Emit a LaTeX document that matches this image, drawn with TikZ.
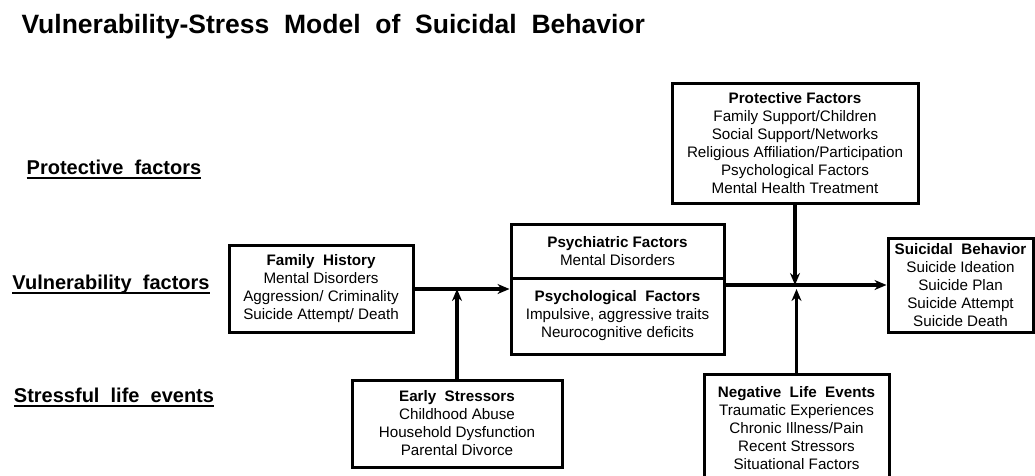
\documentclass[tikz,border=0pt]{standalone}
\usepackage{fontspec}
\setmainfont{Liberation Sans}
\usepackage{tikz}
\usetikzlibrary{arrows,arrows.meta,positioning,calc}

\tikzset{
  factor/.style={draw,line width=3pt,rectangle,inner sep=0pt,align=center,
    font=\fontsize{15.2}{18}\selectfont},
  rowlab/.style={anchor=base,inner xsep=0pt,font=\fontsize{20}{24}\selectfont\bfseries,
    append after command={($(\tikzlastnode.base west)+(0,4)$) edge[-,line width=2pt] ($(\tikzlastnode.base east)+(0,4)$)}},
  link/.style={->,line width=3.2pt}
}

\begin{document}
\begin{tikzpicture}[>={Stealth[length=12pt,width=10pt]},x=1pt,y=-1pt]
\useasboundingbox[fill=white] (0,0) rectangle (1035,475);

% title
\node[anchor=west,font=\fontsize{26.5}{32}\selectfont\bfseries] (title) at (18,27)
  {Vulnerability-Stress\ \ Model\ \ of\ \ Suicidal\ \ Behavior};

% row labels
\node[rowlab] (lprot) at (114,174) {Protective\ \ factors};
\node[rowlab] (lvuln) at (111,289) {Vulnerability\ \ factors};
\node[rowlab] (lstress) at (114,402) {Stressful\ \ life\ \ events};

% boxes
\node[factor,minimum width=184,minimum height=87] (fam) at (321,289)
  {\textbf{Family\ \ History}\\Mental Disorders\\Aggression/ Criminality\\Suicide Attempt/\ Death};
\node[factor,minimum width=213,minimum height=54] (psy) at (617.5,251)
  {\textbf{Psychiatric Factors}\\Mental Disorders};
\node[factor,minimum width=213,minimum height=76] (psl) at (617.5,316)
  {\textbf{Psychological\ \ Factors}\\Impulsive, aggressive traits\\Neurocognitive deficits};
\node[factor,minimum width=246,minimum height=120] (prot) at (795,143)
  {\textbf{Protective Factors}\\Family Support/Children\\Social Support/Networks\\Religious Affiliation/Participation\\Psychological Factors\\Mental Health Treatment};
\node[factor,minimum width=145,minimum height=94] (beh) at (960.5,285)
  {\textbf{Suicidal\ \ Behavior}\\Suicide Ideation\\Suicide Plan\\Suicide Attempt\\Suicide Death};
\node[factor,minimum width=210,minimum height=87] (early) at (457,423.5)
  {\textbf{Early\ \ Stressors}\\Childhood Abuse\\Household Dysfunction\\Parental Divorce};
\node[factor,minimum width=185,minimum height=108] (neg) at (796.5,428)
  {\textbf{Negative\ \ Life\ \ Events}\\Traumatic Experiences\\Chronic Illness/Pain\\Recent Stressors\\Situational Factors};

% connectors
\draw[link] (fam.east) -- (fam.east -| psl.west);
\draw[link] (early.north) -- (early.north |- fam.east);
\draw[link] (beh.west -| psl.east) -- (beh.west);
\draw[link] (prot.south) -- (prot.south |- beh.west);
\draw[link] (neg.north) -- ($(neg.north |- beh.west)+(0,4)$);
\end{tikzpicture}
\end{document}
